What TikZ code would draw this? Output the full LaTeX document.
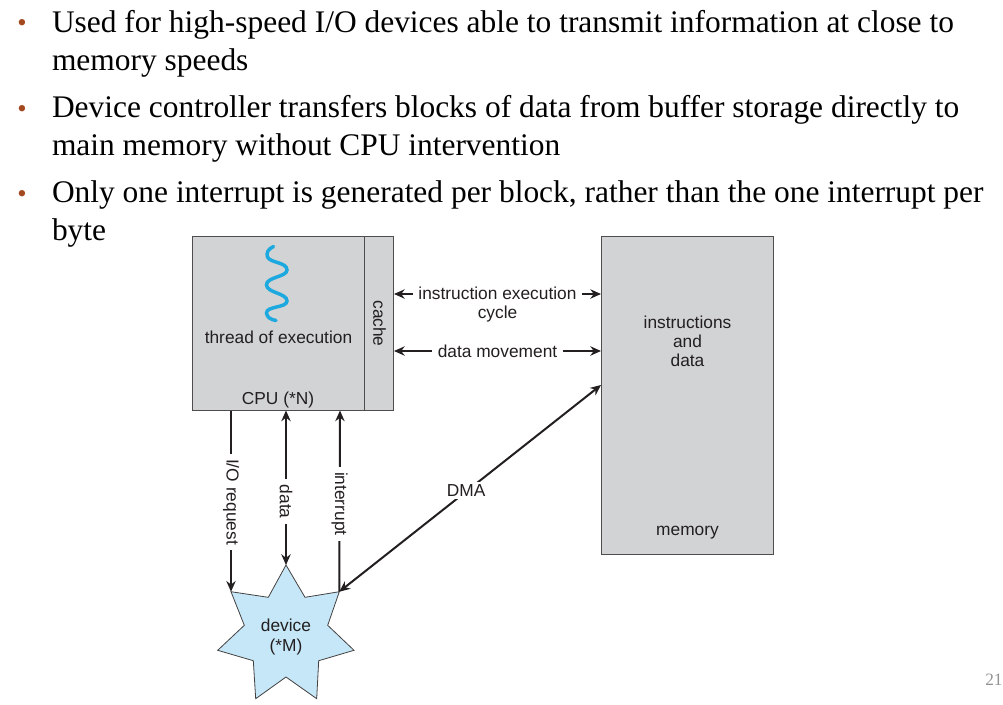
\documentclass[tikz,border=0pt]{standalone}
\usepackage{fontspec}
\setmainfont{Liberation Serif}
\newfontfamily\diagfont{Liberation Sans}
\usetikzlibrary{arrows.meta}
\definecolor{boxgray}{HTML}{D1D3D4}
\definecolor{starblue}{HTML}{C6E7F8}
\definecolor{wave}{HTML}{1CA9E0}
\definecolor{bulletbrown}{HTML}{A4491F}
\definecolor{inkdark}{HTML}{231F20}
\tikzset{
  slidetext/.style={anchor=base west,inner sep=0pt,outer sep=0pt,font=\fontsize{23.58pt}{26pt}\selectfont,text=black},
  bulletmark/.style={anchor=base,inner sep=0pt,font=\fontsize{20pt}{24pt}\selectfont,text=bulletbrown},
  box/.style={draw=inkdark!80,fill=boxgray,line width=0.75pt,inner sep=0pt,outer sep=0pt},
  lab/.style={font=\diagfont\fontsize{13pt}{14.4pt}\selectfont,text=inkdark,inner sep=0pt,align=center},
  gaplab/.style={lab,fill=white,inner xsep=4pt,inner ysep=2pt},
  conn/.style={draw=inkdark,line width=1.5pt},
  tip/.style={-{Stealth[length=8pt,width=7pt]}},
  tips/.style={{Stealth[length=8pt,width=7pt]}-{Stealth[length=8pt,width=7pt]}}
}
\begin{document}
\begin{tikzpicture}[x=0.75pt,y=-0.75pt]
\useasboundingbox (0,0) rectangle (1003,704);
% slide text
\node[bulletmark] (b1) at (22,31) {•};
\node[bulletmark] (b2) at (22,117) {•};
\node[bulletmark] (b3) at (22,202) {•};
\node[slidetext] (t1) at (52,32) {Used for high-speed I/O devices able to transmit information at close to};
\node[slidetext] (t2) at (52,70) {memory speeds};
\node[slidetext] (t3) at (52,117.8) {Device controller transfers blocks of data from buffer storage directly to};
\node[slidetext] (t4) at (52,155) {main memory without CPU intervention};
\node[slidetext] (t5) at (52,202.8) {Only one interrupt is generated per block, rather than the one interrupt per};
\node[slidetext] (t6) at (52,240) {byte};
% boxes
\node[box,anchor=north west,minimum width=151pt,minimum height=130.5pt] (cpu) at (192.3,236.5) {};
\node[box,anchor=north west,minimum width=22pt,minimum height=130.5pt] (cache) at (364.3,236.5) {};
\node[box,anchor=north west,minimum width=129pt,minimum height=238.5pt] (mem) at (601,236.5) {};
% star
\coordinate (s1) at (286,565);
\coordinate (s2) at (305,597.3);
\coordinate (s3) at (339.3,591.7);
\coordinate (s4) at (327.7,625.3);
\coordinate (s5) at (354,650.3);
\coordinate (s6) at (318.7,660.7);
\coordinate (s7) at (316.7,698.7);
\coordinate (s8) at (286,677);
\coordinate (s9) at (255.7,698.7);
\coordinate (s10) at (253.3,660.7);
\coordinate (s11) at (217.7,650.3);
\coordinate (s12) at (244.3,625.3);
\coordinate (s13) at (231,591.7);
\coordinate (s14) at (268.3,597.3);
\filldraw[fill=starblue,draw=inkdark!85,line width=0.6pt,line join=miter]
  (s1)--(s2)--(s3)--(s4)--(s5)--(s6)--(s7)--(s8)--(s9)--(s10)--(s11)--(s12)--(s13)--(s14)--cycle;
% wave
\draw[wave,line width=2.6pt,line cap=round] (273.5,246.5)
  .. controls (268,249) and (266,253) .. (267.5,257)
  .. controls (270,263) and (287,262) .. (287,270)
  .. controls (287,277) and (266,277) .. (266.5,285)
  .. controls (267,293) and (287,293) .. (287,301)
  .. controls (287,308) and (266,306) .. (266.5,313)
  .. controls (267,317) and (270,319.5) .. (276,320.5);
% free anchors of connectors
\coordinate (cpuIO) at (231,410.5);
\coordinate (cpuData) at (286,410.5);
\coordinate (cpuInt) at (340,410.5);
\coordinate (cacheA) at (394,294);
\coordinate (memA) at (601,294);
\coordinate (cacheB) at (394,351);
\coordinate (memB) at (601,351);
\coordinate (memC) at (601,385);
% connectors
\draw[conn,tip] (cpuIO) -- (s13) node[pos=0.505,gaplab,rotate=-90] (lio) {I/O request};
\draw[conn,tips] (s1) -- (cpuData) node[pos=0.41,gaplab,rotate=-90] (ldata) {data};
\draw[conn,tip] (s3) -- (cpuInt) node[pos=0.485,gaplab,rotate=-90] (lint) {interrupt};
\draw[conn,tips] (cacheA) -- (memA);
\node[gaplab] (lins) at (497.5,304.5) {instruction execution\\cycle};
\draw[conn,tips] (cacheB) -- (memB) node[midway,gaplab] (lmove) {data movement};
\draw[conn,tips] (s3) -- (memC) node[pos=0.485,gaplab,yshift=0.75pt] (ldma) {DMA};
% labels
\node[lab] (lthread) at (278.5,337) {thread of execution};
\node[lab] (lcpu) at (278,400) {CPU (*N)};
\node[lab,rotate=-90] (lcache) at (379.5,323.5) {cache};
\node[lab] (linst) at (687.5,341.5) {instructions\\and\\data};
\node[lab] (lmem) at (687.5,533) {memory};
\node[lab] (ldev) at (286,637) {device\\(*M)};
% page number
\node[anchor=base west,inner sep=0pt,font=\fontsize{13pt}{16pt}\selectfont,text=gray!85] (pnum) at (985,685) {21};
\end{tikzpicture}
\end{document}
